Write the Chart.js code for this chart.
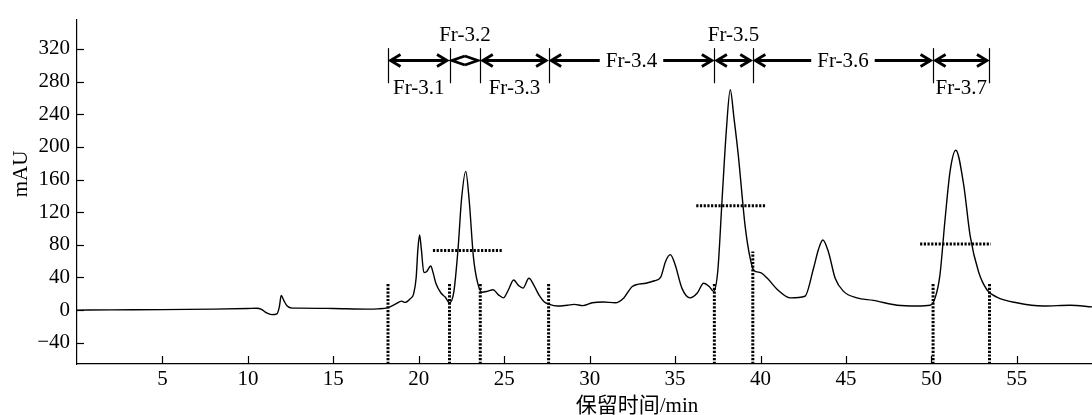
<!DOCTYPE html>
<html>
<head>
<meta charset="utf-8">
<script src="https://cdn.jsdelivr.net/npm/chart.js@4.4.1/dist/chart.umd.min.js"></script>
<style>
  html, body { margin:0; padding:0; background:#fff; overflow:hidden; }
  #wrap { width:1092px; height:415px; }
</style>
</head>
<body>
<div id="wrap"><canvas id="chart" width="1092" height="415"></canvas></div>
<script>
// retention time (min) and absorbance (mAU)
const rtMin = [0,2,5,8,10,10.5,10.8,11.1,11.4,11.7,11.85,11.95,12.1,12.3,12.6,13,15,17,17.6,18.2,18.6,19.0,19.2,19.5,19.7,19.85,19.95,20.05,20.15,20.3,20.45,20.7,20.85,21.0,21.3,21.55,21.8,22.05,22.3,22.5,22.75,22.95,23.2,23.45,23.7,24.0,24.35,24.65,24.95,25.25,25.55,25.85,26.1,26.45,26.75,27.05,27.35,27.65,28.1,28.7,29.1,29.6,30.15,30.8,31.5,32.0,32.5,33.3,33.8,34.15,34.45,34.72,35.0,35.4,35.88,36.3,36.67,37.0,37.25,37.5,37.75,38.0,38.23,38.45,38.7,39.1,39.4,39.6,40.0,40.4,41.0,41.75,42.6,43.1,43.4,43.65,43.98,44.37,44.86,45.64,46.6,48.0,49.15,49.93,50.22,50.5,50.8,51.1,51.43,51.88,52.27,52.76,53.25,53.83,55.0,56.56,58.12,59.4];
const mAU   = [0,0.3,0.6,1.2,2,2.3,1,-3.5,-5.5,-4.5,5,18,12,5,2.5,2.5,2,1.2,1.5,3,7,11,9.5,14,20,40,75,92,75,46,47,54,45,33,21,16,9,22,75,135,170,135,65,33,22,23,25,19,15,25,37,30,27,39,30,18,10,7,5,6,7,5.5,9,10,9,15,29,33,36,40,60,68,56,27,15,21,33,29,23,48,135,220,270,235,190,103,63,49,46,39,25,15,17,51,75,86,71,39,23,15,12,6,5,6,15,43,111,171,196,155,91,47,25,16,9,5,6,4];

// collected fractions: boundaries (min) and names
const fracBounds = [18.2, 21.8, 23.6, 27.6, 37.3, 39.55, 50.1, 53.4];
const fracNames  = ["Fr-3.1","Fr-3.2","Fr-3.3","Fr-3.4","Fr-3.5","Fr-3.6","Fr-3.7"];
const fracLabelAt = ["below","above","below","inline","above","inline","below"];
// height (mAU) each dotted cut line reaches
const cutTop = [34, 34, 34, 34, 34, 72, 34, 34];

// half-height markers of the main peaks: [start, end, level]
const halfStart = [20.83, 36.24, 49.34];
const halfEnd   = [24.93, 40.33, 53.48];
const halfLevel = [73, 128, 81];

const xTicks = [5,10,15,20,25,30,35,40,45,50,55];
const yTicks = [-40,0,40,80,120,160,200,240,280,320];

const X_MIN = 0, X_MAX = 59.4, Y_MIN = -66, Y_MAX = 356;
const ARROW_LEVEL = 307, BAR_TOP = 321, BAR_BOTTOM = 278;

const FONT = '"Liberation Serif", "Times New Roman", serif';

// dotted lines, one dataset each group with null gaps
const cutData = [];
fracBounds.forEach((b, i) => {
  cutData.push({x:b, y:Y_MIN}, {x:b, y:cutTop[i]}, {x:b, y:null});
});
const halfData = [];
halfLevel.forEach((lv, i) => {
  halfData.push({x:halfStart[i], y:lv}, {x:halfEnd[i], y:lv}, {x:halfEnd[i], y:null});
});

const dotted = { borderColor:"#000", borderWidth:3, borderDash:[2.2,1.5], borderCapStyle:"butt", pointRadius:0, spanGaps:false, tension:0 };

// inner tick marks, fraction arrows and axis titles
const decor = {
  id: "decor",
  afterDraw(chart) {
    const {ctx, scales:{x, y}, chartArea:ca} = chart;
    ctx.save();
    ctx.strokeStyle = "#000";
    ctx.fillStyle = "#000";

    ctx.lineWidth = 1.2;
    yTicks.forEach(v => {
      const py = Math.round(y.getPixelForValue(v)) + 0.5;
      ctx.beginPath(); ctx.moveTo(ca.left, py); ctx.lineTo(ca.left + 7, py); ctx.stroke();
    });
    xTicks.forEach(v => {
      const px = Math.round(x.getPixelForValue(v)) + 0.5;
      ctx.beginPath(); ctx.moveTo(px, ca.bottom); ctx.lineTo(px, ca.bottom - 8); ctx.stroke();
    });

    // bars at fraction boundaries
    const bt = y.getPixelForValue(BAR_TOP), bb = y.getPixelForValue(BAR_BOTTOM);
    fracBounds.forEach(b => {
      const px = Math.round(x.getPixelForValue(b)) + 0.5;
      ctx.beginPath(); ctx.moveTo(px, bt); ctx.lineTo(px, bb); ctx.stroke();
    });

    const ay = Math.round(y.getPixelForValue(ARROW_LEVEL)) + 0.5;
    ctx.font = "21px " + FONT;
    ctx.textAlign = "center";
    ctx.textBaseline = "alphabetic";
    ctx.lineWidth = 2.8;
    ctx.lineJoin = "miter";
    const shaft = (a, b) => { ctx.beginPath(); ctx.moveTo(a, ay); ctx.lineTo(b, ay); ctx.stroke(); };

    fracNames.forEach((name, i) => {
      const x0 = x.getPixelForValue(fracBounds[i]) + 2.5;
      const x1 = x.getPixelForValue(fracBounds[i+1]) - 2.5;
      const w = x1 - x0, mid = (x0 + x1) / 2;
      const len = w < 30 ? w / 2 : 10, h = w < 30 ? 4.5 : 6;
      const where = fracLabelAt[i];
      if (where === "inline") {
        const tw = ctx.measureText(name).width;
        shaft(x0, mid - tw/2 - 6);
        shaft(mid + tw/2 + 6, x1);
        ctx.fillText(name, mid, ay + 6);
      } else {
        if (w >= 30) shaft(x0, x1);
        ctx.fillText(name, mid, where === "above" ? ay - 20 : ay + 33);
      }
      ctx.beginPath(); ctx.moveTo(x0 + len, ay - h); ctx.lineTo(x0, ay); ctx.lineTo(x0 + len, ay + h); ctx.stroke();
      ctx.beginPath(); ctx.moveTo(x1 - len, ay - h); ctx.lineTo(x1, ay); ctx.lineTo(x1 - len, ay + h); ctx.stroke();
    });

    // axis titles
    ctx.font = '21px "Liberation Serif", "Noto Sans CJK SC", serif';
    ctx.textAlign = "center";
    ctx.fillText("保留时间/min", 637, 412);
    ctx.save();
    ctx.translate(27, 174);
    ctx.rotate(-Math.PI / 2);
    ctx.font = "21px " + FONT;
    ctx.fillText("mAU", 0, 0);
    ctx.restore();

    ctx.restore();
  }
};

new Chart(document.getElementById("chart"), {
  type: "line",
  data: {
    datasets: [
      { data: cutData, ...dotted },
      { data: halfData, ...dotted },
      { data: rtMin.map((t, i) => ({x:t, y:mAU[i]})), borderColor:"#000", borderWidth:1.4,
        pointRadius:0, cubicInterpolationMode:"monotone", fill:false },
    ]
  },
  options: {
    responsive: false,
    animation: false,
    layout: { padding: { top: 13, right: 0, left: 0, bottom: 0 } },
    plugins: { legend: { display:false }, tooltip: { enabled:false } },
    scales: {
      x: {
        type: "linear", min: X_MIN, max: X_MAX,
        grid: { display:false, drawTicks:false },
        border: { display:true, color:"#000", width:1.2 },
        ticks: { color:"#000", padding:3, font:{ family:FONT, size:21 } },
        afterBuildTicks: s => { s.ticks = xTicks.map(v => ({value:v})); },
        afterFit: s => { s.height = 51; },
      },
      y: {
        min: Y_MIN, max: Y_MAX,
        grid: { display:false, drawTicks:false },
        border: { display:true, color:"#000", width:1.2 },
        ticks: { color:"#000", padding:7, font:{ family:FONT, size:21 },
                 callback: v => v < 0 ? "\u2212" + Math.abs(v) : String(v) },
        afterBuildTicks: s => { s.ticks = yTicks.map(v => ({value:v})); },
        afterFit: s => { s.width = 77; },
      }
    }
  },
  plugins: [decor]
});
</script>
</body>
</html>
